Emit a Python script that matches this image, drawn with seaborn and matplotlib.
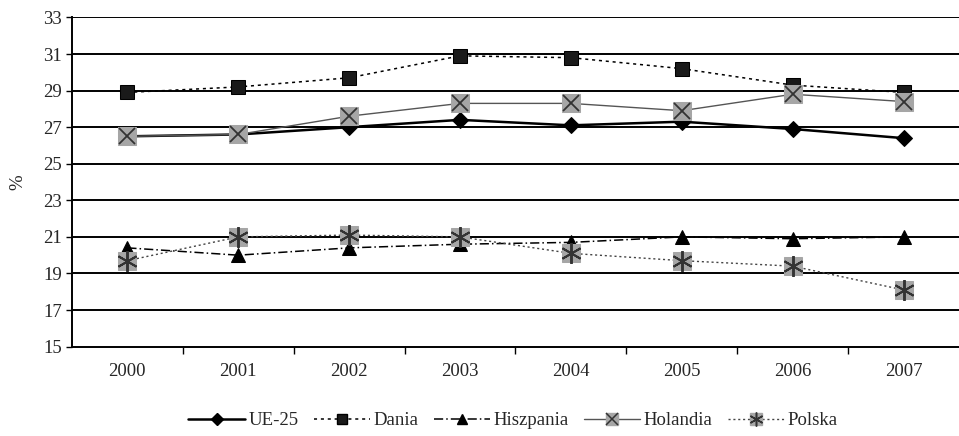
import matplotlib
matplotlib.use("Agg")
import matplotlib.pyplot as plt
from matplotlib.lines import Line2D
from matplotlib.legend_handler import HandlerTuple
import seaborn as sns
import pandas as pd

years = ["2000", "2001", "2002", "2003", "2004", "2005", "2006", "2007"]
ue25 = [26.5, 26.6, 27.0, 27.4, 27.1, 27.3, 26.9, 26.4]
dania = [28.9, 29.2, 29.7, 30.9, 30.8, 30.2, 29.3, 28.9]
hiszpania = [20.4, 20.0, 20.4, 20.6, 20.7, 21.0, 20.9, 21.0]
holandia = [26.5, 26.6, 27.6, 28.3, 28.3, 27.9, 28.8, 28.4]
polska = [19.7, 21.0, 21.1, 21.0, 20.1, 19.7, 19.4, 18.1]
yticks = [15, 17, 19, 21, 23, 25, 27, 29, 31, 33]

sns.set_theme(style="white")
plt.rcParams["font.family"] = ["Liberation Serif", "DejaVu Serif"]

fig = plt.figure(figsize=(9.59, 4.36), dpi=100)
ax = fig.add_axes([0.075, 0.205, 0.925, 0.755])

GRAY = "#a6a6a6"
series = [
    ("UE-25", ue25, dict(color="black", lw=1.8, ls="-", marker="D", ms=8,
                         mfc="black", mec="black")),
    ("Dania", dania, dict(color="black", lw=1.1, ls=(0, (2, 2.5)), marker="s", ms=10,
                          mfc="#1a1a1a", mec="black")),
    ("Hiszpania", hiszpania, dict(color="black", lw=1.1, ls=(0, (6, 2, 1, 2)), marker="^", ms=10,
                                  mfc="black", mec="black")),
    ("Holandia", holandia, dict(color="#555555", lw=1.0, ls="-", marker="s", ms=13,
                                mfc=GRAY, mec=GRAY)),
    ("Polska", polska, dict(color="#444444", lw=1.0, ls=(0, (1.5, 2)), marker="s", ms=13,
                            mfc=GRAY, mec=GRAY)),
]

for name, vals, kw in series:
    df = pd.DataFrame({"rok": years, "wartosc": vals})
    sns.lineplot(data=df, x="rok", y="wartosc", ax=ax, sort=False,
                 color=kw["color"], linewidth=kw["lw"], linestyle=kw["ls"],
                 marker=kw["marker"], markersize=kw["ms"],
                 markerfacecolor=kw["mfc"], markeredgecolor=kw["mec"], zorder=3)

# cross overlays on the gray square markers
ax.plot(range(len(years)), holandia, ls="none", marker="x", ms=12, mew=1.3,
        color="#333333", zorder=4)
ax.plot(range(len(years)), polska, ls="none", marker=(6, 2, 0), ms=15, mew=1.4,
        color="#333333", zorder=4)

ax.set_xlim(-0.5, len(years) - 0.5)
ax.set_ylim(15, 33)
ax.set_yticks(yticks)
ax.set_yticklabels([str(t) for t in yticks], fontsize=13.5)
ax.set_xticks(range(len(years)))
ax.set_xticklabels(years, fontsize=13.5)
ax.set_xlabel("")
ax.set_ylabel("%", fontsize=13.5, labelpad=12)

for t in yticks[1:]:
    ax.axhline(t, color="black", lw=1.4, zorder=1)

for side in ("top", "right"):
    ax.spines[side].set_visible(False)
for side in ("left", "bottom"):
    ax.spines[side].set_color("black")
    ax.spines[side].set_linewidth(1.4)

ax.tick_params(axis="x", length=0, pad=12)
ax.tick_params(axis="y", length=4, width=1, color="black", direction="out", left=True, pad=3)
# category separators along the bottom axis
ax.set_xticks([i + 0.5 for i in range(len(years) - 1)], minor=True)
ax.tick_params(axis="x", which="minor", length=5, width=1, color="black", bottom=True)

h_ue = Line2D([], [], color="black", lw=1.8, marker="D", ms=6, mfc="black")
h_da = Line2D([], [], color="black", lw=1.1, ls=(0, (2, 2.5)), marker="s", ms=7, mfc="#1a1a1a")
h_hi = Line2D([], [], color="black", lw=1.1, ls=(0, (6, 2, 1, 2)), marker="^", ms=7)
h_ho = (Line2D([], [], color="#555555", lw=1.0, marker="s", ms=9, mfc=GRAY, mec=GRAY),
        Line2D([], [], ls="none", marker="x", ms=8, mew=1.1, color="#333333"))
h_po = (Line2D([], [], color="#444444", lw=1.0, ls=(0, (1.5, 2)), marker="s", ms=9, mfc=GRAY, mec=GRAY),
        Line2D([], [], ls="none", marker=(6, 2, 0), ms=10, mew=1.1, color="#333333"))

fig.legend([h_ue, h_da, h_hi, h_ho, h_po],
           ["UE-25", "Dania", "Hiszpania", "Holandia", "Polska"],
           handler_map={tuple: HandlerTuple(ndivide=1, pad=0)},
           loc="center", bbox_to_anchor=(0.535, 0.035), ncol=5, frameon=False,
           fontsize=13.5, handlelength=3.0, handletextpad=0.2, columnspacing=0.8)

fig.savefig("out.png", dpi=100)
